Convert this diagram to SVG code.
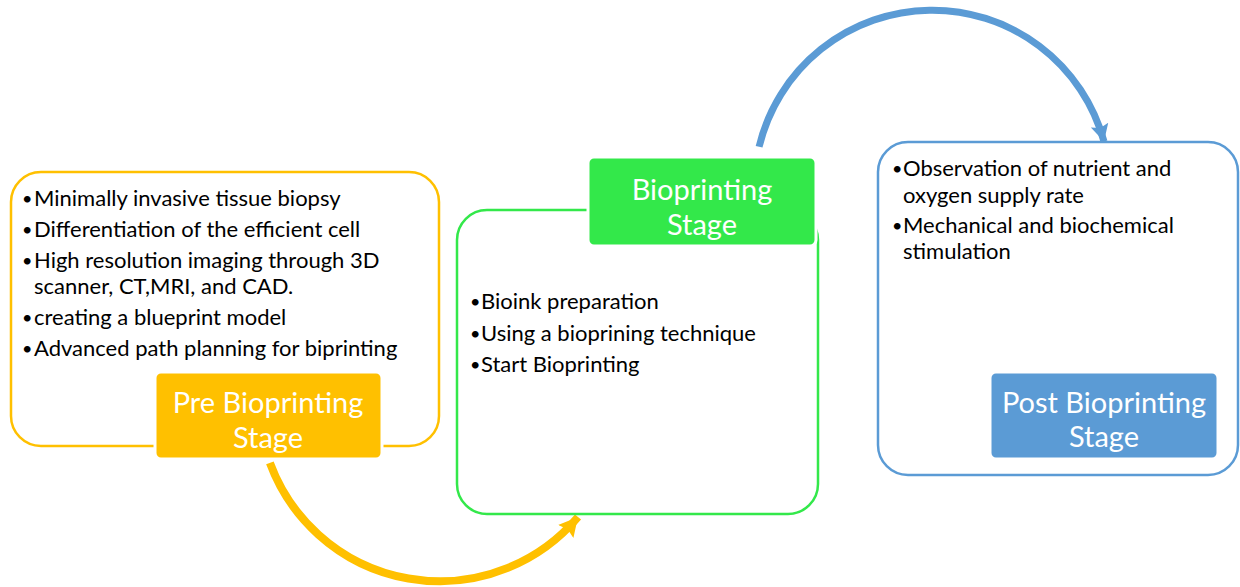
<svg xmlns="http://www.w3.org/2000/svg" width="1240" height="587" viewBox="0 0 1240 587">
  <style>
    .list { font-family: Lato, "Open Sans", sans-serif; font-size: 22px; fill: #000; }
    .dot { font-family: Lato, "Open Sans", sans-serif; font-size: 18px; fill: #000; }
    .label { font-family: Lato, "Open Sans", sans-serif; font-size: 29px; fill: #fff; text-anchor: middle; }
    .frame { fill: #fff; stroke-width: 2.5; }
    .tag { stroke: #fff; stroke-width: 3; }
  </style>
  <defs>
    <marker id="headY" markerUnits="userSpaceOnUse" markerWidth="22" markerHeight="22" viewBox="0 0 22 22" refX="19" refY="11" orient="auto">
      <path d="M0,1 L19,11 L0,21 L3,11 Z" fill="#FFC000"/>
    </marker>
    <marker id="headB" markerUnits="userSpaceOnUse" markerWidth="20" markerHeight="20" viewBox="0 0 20 20" refX="17" refY="10" orient="auto">
      <path d="M0,1 L17,10 L0,19 L3,10 Z" fill="#5B9BD5"/>
    </marker>
  </defs>

  <rect width="1240" height="587" fill="#fff"/>

  <!-- connectors -->
  <g id="connectors" fill="none">
    <path d="M269.9,462.9 A181,181 0 0 0 578,517" stroke="#FFC000" stroke-width="8" marker-end="url(#headY)"/>
    <path d="M759.1,146.8 A178,178 0 0 1 1104,141.5" stroke="#5B9BD5" stroke-width="7" marker-end="url(#headB)"/>
  </g>

  <!-- pre bioprinting stage -->
  <g id="pre">
    <rect class="frame" x="11" y="172" width="428" height="274" rx="30" stroke="#FFC000"/>
    <g class="dot">
      <text x="22" y="205">•</text>
      <text x="22" y="236">•</text>
      <text x="22" y="267">•</text>
      <text x="22" y="324">•</text>
      <text x="22" y="355">•</text>
    </g>
    <g class="list">
      <text x="34" y="206">Minimally invasive tissue biopsy</text>
      <text x="34" y="237">Differentiation of the efficient cell</text>
      <text x="34" y="268">High resolution imaging through 3D</text>
      <text x="34" y="294">scanner, CT,MRI, and CAD.</text>
      <text x="34" y="325">creating a blueprint model</text>
      <text x="34" y="356">Advanced path planning for biprinting</text>
    </g>
    <rect class="tag" x="155" y="372" width="227" height="87" rx="6" fill="#FFC000"/>
    <text class="label" x="268" y="413">Pre Bioprinting</text>
    <text class="label" x="268" y="448">Stage</text>
  </g>

  <!-- bioprinting stage -->
  <g id="bioprinting">
    <rect class="frame" x="457" y="210" width="361" height="304" rx="30" stroke="#33E84A"/>
    <g class="dot">
      <text x="470" y="308">•</text>
      <text x="470" y="340">•</text>
      <text x="470" y="371">•</text>
    </g>
    <g class="list">
      <text x="481" y="309">Bioink preparation</text>
      <text x="481" y="341">Using a bioprining technique</text>
      <text x="481" y="372">Start Bioprinting</text>
    </g>
    <rect class="tag" x="588" y="157" width="228" height="89" rx="6" fill="#33E84A"/>
    <text class="label" x="702" y="200">Bioprinting</text>
    <text class="label" x="702" y="235">Stage</text>
  </g>

  <!-- post bioprinting stage -->
  <g id="post">
    <rect class="frame" x="878" y="142" width="360" height="333" rx="30" stroke="#5B9BD5"/>
    <g class="dot">
      <text x="892" y="175">•</text>
      <text x="892" y="232">•</text>
    </g>
    <g class="list">
      <text x="903" y="176">Observation of nutrient and</text>
      <text x="903" y="203">oxygen supply rate</text>
      <text x="903" y="233">Mechanical and biochemical</text>
      <text x="903" y="259">stimulation</text>
    </g>
    <rect class="tag" x="990" y="372" width="228" height="87" rx="6" fill="#5B9BD5"/>
    <text class="label" x="1104" y="413">Post Bioprinting</text>
    <text class="label" x="1104" y="447">Stage</text>
  </g>
</svg>
